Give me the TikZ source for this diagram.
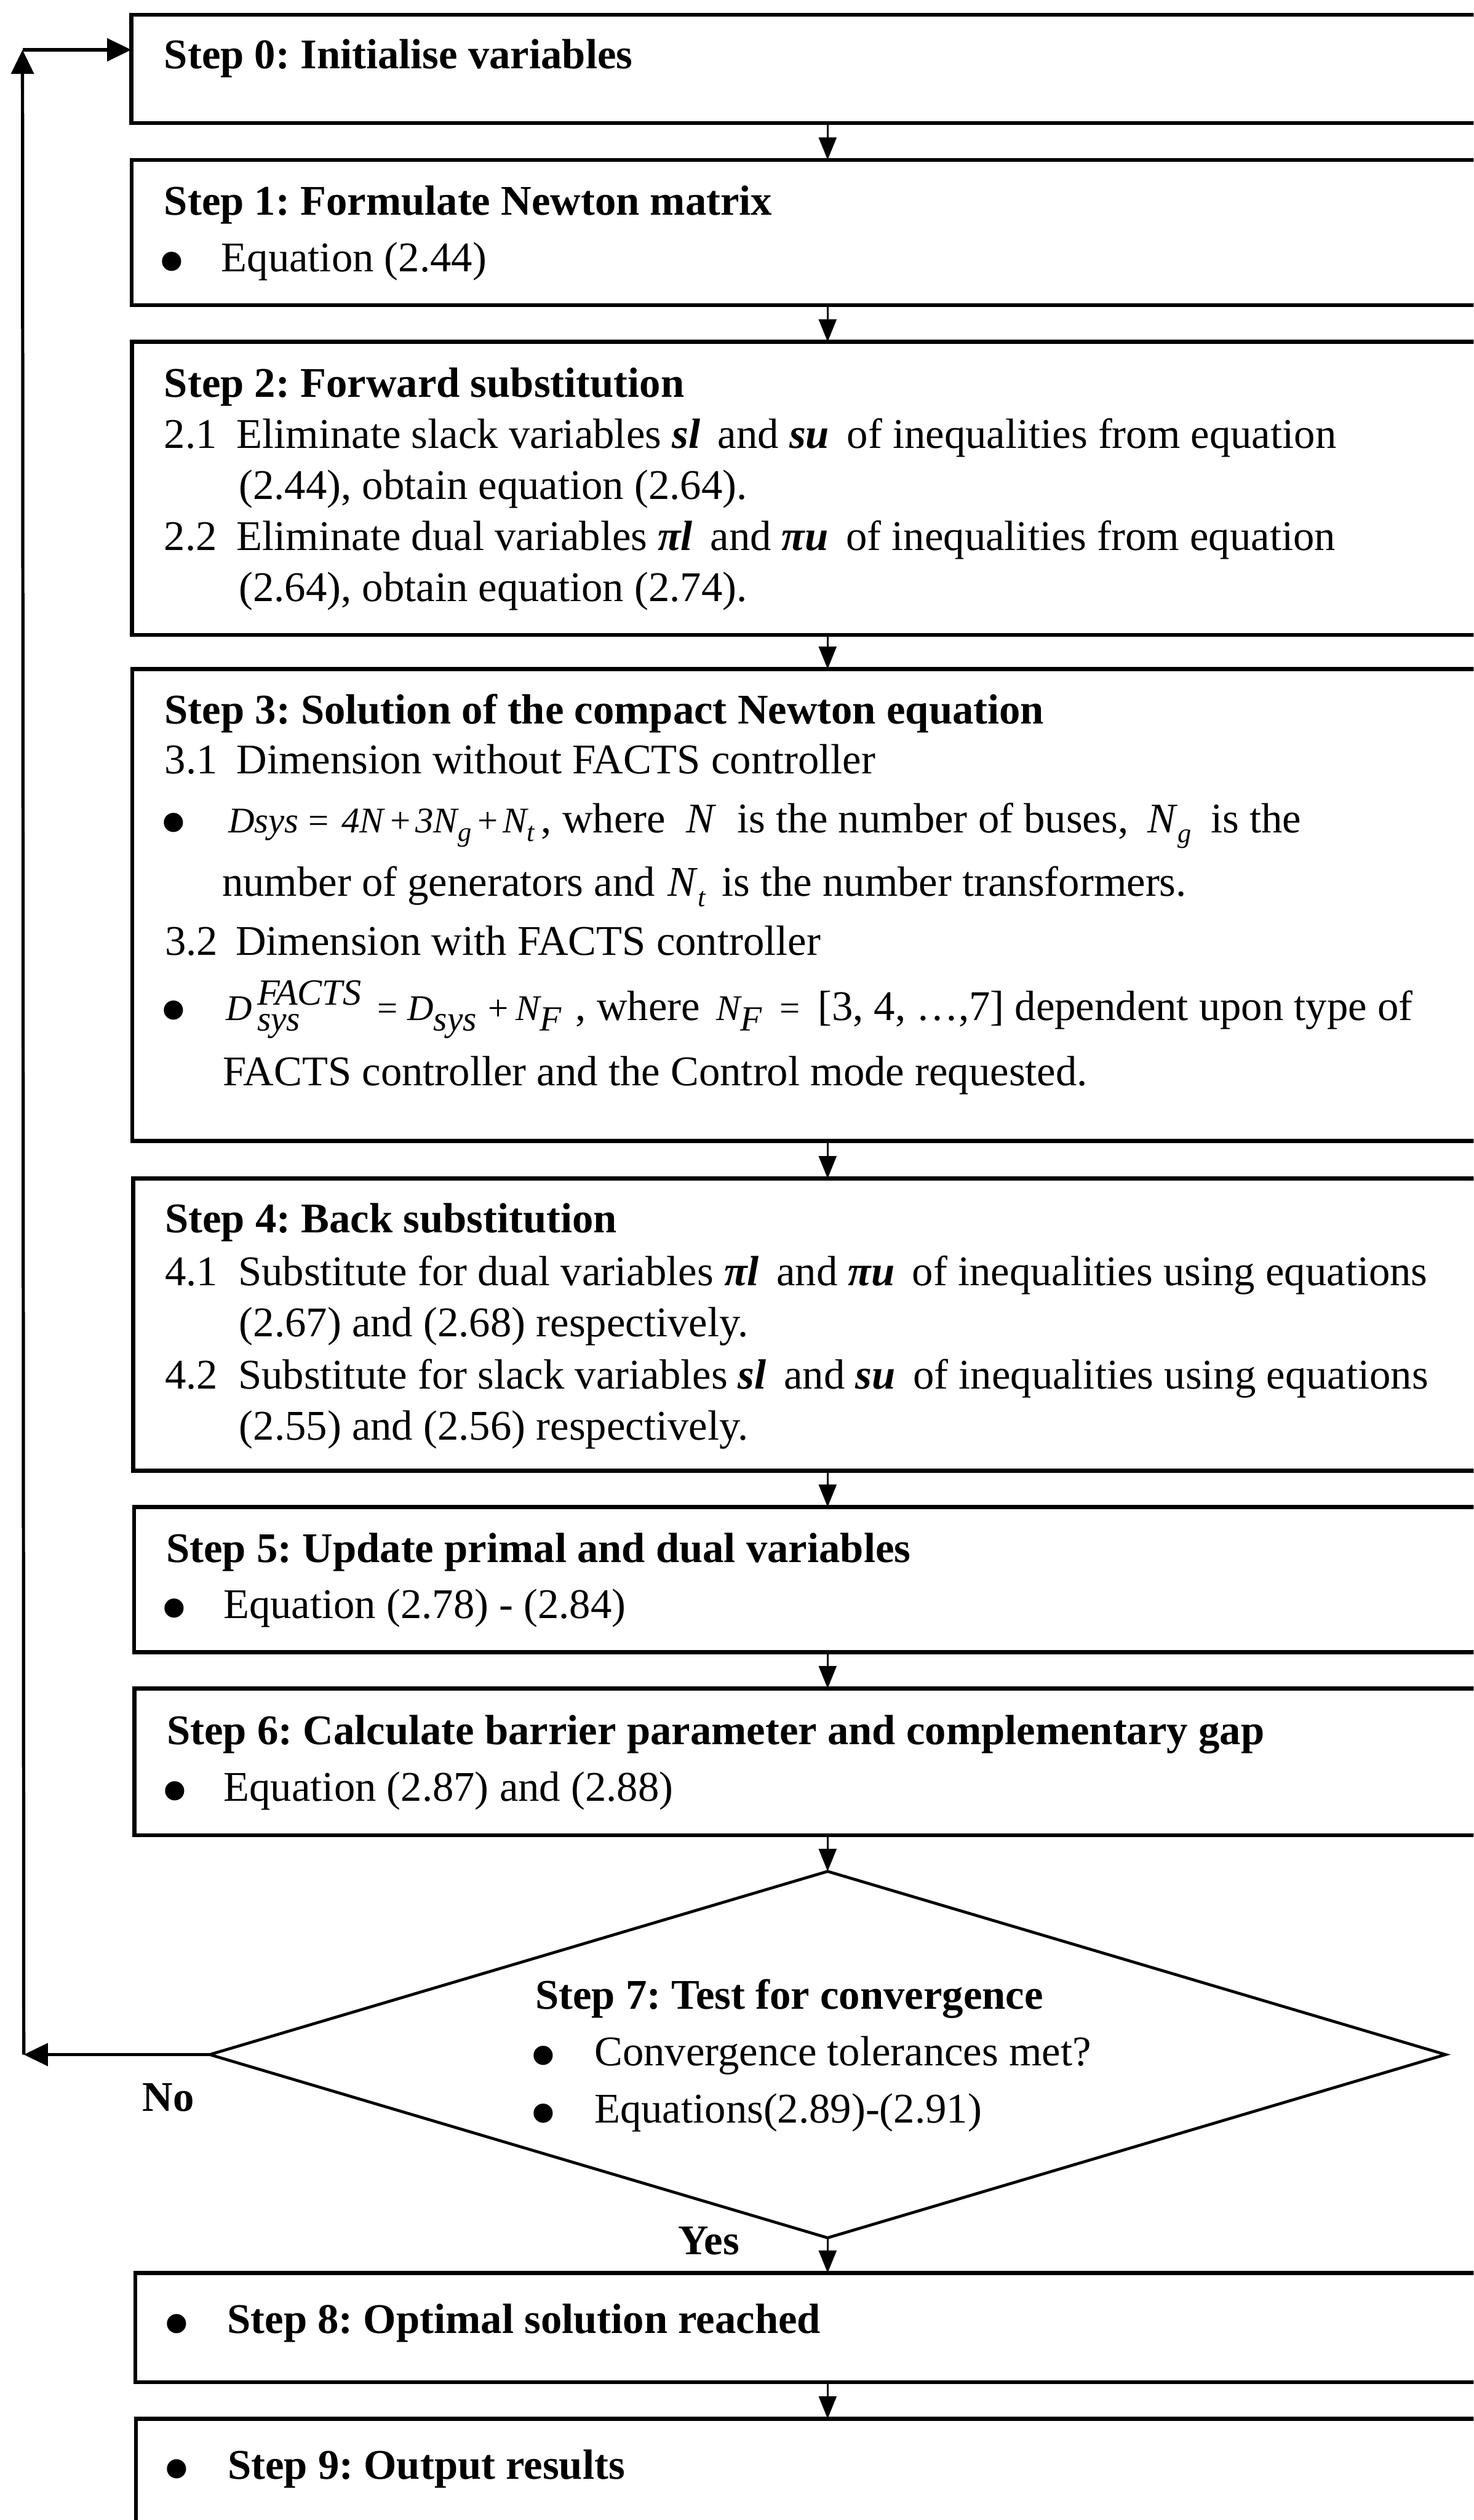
\documentclass[tikz,border=0pt]{standalone}
\usepackage{fontspec}
\setmainfont{Liberation Serif}
\usetikzlibrary{shapes.geometric,arrows.meta}
\frenchspacing

% italic sub/superscripts for the dimension formulas
\newcommand{\lo}[1]{\raisebox{-0.24em}{\fontsize{17}{17}\selectfont\itshape #1}}
\newcommand{\lob}[1]{\raisebox{-6.6pt}{\fontsize{22}{22}\selectfont\itshape #1}}
\newcommand{\hilo}[2]{\makebox[0pt][l]{\raisebox{-6.6pt}{\fontsize{22}{22}\selectfont\itshape #2}}\raisebox{9.3pt}{\fontsize{23}{23}\selectfont\itshape #1}}
\newcommand{\mfont}{\fontsize{22.5}{22.5}\selectfont\itshape}
\newcommand{\gap}[1]{\hspace{#1pt}}
\newcommand{\var}[1]{\textbf{\textit{#1}}}

\begin{document}
\begin{tikzpicture}[x=1pt,y=-1pt,
  box/.style={draw, line width=2.4pt, rectangle, inner sep=0pt, outer sep=0pt,
              anchor=north west, minimum width=880pt},
  txt/.style={anchor=base west, inner sep=0pt, font=\fontsize{26.3}{31.7}\selectfont},
  hd/.style={anchor=base west, inner sep=0pt, font=\fontsize{26.3}{31.7}\selectfont\bfseries},
  bul/.style={anchor=base, inner sep=0pt, yshift=-10.5pt, text height=16pt, text depth=0pt,
              font=\fontsize{50}{50}\selectfont},
  flow/.style={line width=1.2pt, -{Triangle[length=14pt,width=11pt]}},
  back/.style={line width=2pt, -{Triangle[length=15pt,width=14pt]}},
]
\useasboundingbox (0,0) rectangle (917,1568);
\clip (0,0) rectangle (917,1568);

% process boxes (their right sides run past the frame)
\node[box, minimum height=67.4pt]  (b0) at (81.7,9.2) {};
\node[box, minimum height=90.5pt]  (b1) at (81.9,99.5) {};
\node[box, minimum height=182.3pt] (b2) at (82.1,212.7) {};
\node[box, minimum height=293.6pt] (b3) at (82.4,416.3) {};
\node[box, minimum height=181.8pt] (b4) at (82.9,733.3) {};
\node[box, minimum height=90.3pt]  (b5) at (83.4,937.7) {};
\node[box, minimum height=91.3pt]  (b6) at (83.6,1050.6) {};
\node[draw, diamond, line width=1.8pt, inner sep=0pt, outer sep=0pt,
      minimum width=769pt, minimum height=228pt] (d7) at (515,1278.4) {};
\node[box, minimum height=68pt]    (b8) at (84.3,1414.3) {};
\node[box, minimum height=120pt]   (b9) at (84.5,1505) {};

% downward flow
\coordinate (ax) at (515,0);
\draw[flow] (b0.south -| ax) -- (b1.north -| ax);
\draw[flow] (b1.south -| ax) -- (b2.north -| ax);
\draw[flow] (b2.south -| ax) -- (b3.north -| ax);
\draw[flow] (b3.south -| ax) -- (b4.north -| ax);
\draw[flow] (b4.south -| ax) -- (b5.north -| ax);
\draw[flow] (b5.south -| ax) -- (b6.north -| ax);
\draw[flow] (b6.south -| ax) -- (d7.north);
\draw[flow] (d7.south) -- (b8.north -| ax);
\draw[flow] (b8.south -| ax) -- (b9.north -| ax);

% return path when not converged
\coordinate (lc1) at (14.8,1278.4);
\coordinate (lc2) at (14,31);
\draw[back] (d7.west) -- (lc1);
\draw[back] (lc1) -- (lc2);
\draw[back] (lc2) -- (lc2 -| b0.west);

% Step 0
\node[hd] (t0) at (102,42.6) {Step 0: Initialise variables};
% Step 1
\node[hd] (t1) at (102,133.8) {Step 1: Formulate Newton matrix};
\node[bul] (t1b) at (107,169) {•};
\node[txt] (t1a) at (137.5,169) {Equation (2.44)};
% Step 2
\node[hd] (t2) at (102,247) {Step 2: Forward substitution};
\node[txt] (t2n1) at (102,278.8) {2.1};
\node[txt] (t2a) at (147,278.8) {Eliminate slack variables \var{sl}\, and \var{su}\, of inequalities from equation};
\node[txt] (t2b) at (148.5,310.6) {(2.44), obtain equation (2.64).};
\node[txt] (t2n2) at (102,342.4) {2.2};
\node[txt] (t2c) at (147,342.4) {Eliminate dual variables \var{πl}\, and \var{πu}\, of inequalities from equation};
\node[txt] (t2d) at (148.5,374.1) {(2.64), obtain equation (2.74).};
% Step 3
\node[hd] (t3) at (102.3,450.2) {Step 3: Solution of the compact Newton equation};
\node[txt] (t3n1) at (102.3,481.5) {3.1};
\node[txt] (t3a) at (147,481.5) {Dimension without FACTS controller};
\node[bul] (t3b1) at (107.9,518) {•};
\node[txt] (t3b) at (142,518) {{\mfont Dsys\gap{6}{\upshape =}\gap{8}4N\gap{4}{\upshape +}\gap{3}3N\lo{g}\gap{4}{\upshape +}\gap{3}N\lo{t}}\gap{4}, where\gap{13}\textit{N}\gap{13}is the number of buses,\gap{12}\textit{N}\lo{g}\gap{12}is the};
\node[txt] (t3c) at (138,557.7) {number of generators and\gap{8}\textit{N}\lo{t}\gap{10}is the number transformers.};
\node[txt] (t3n2) at (102.5,594.5) {3.2};
\node[txt] (t3d) at (146.5,594.5) {Dimension with FACTS controller};
\node[bul] (t3b2) at (108,634.7) {•};
\node[txt] (t3e) at (140.6,634.7) {{\mfont D\gap{3}\hilo{FACTS}{sys}\gap{10}{\upshape =}\gap{6}D\lob{sys}\gap{7}{\upshape +}\gap{4.5}N\lob{F}}\gap{9}, where\gap{10}{\mfont N\lob{F}\gap{11}{\upshape =}}\gap{11}[3, 4, …,7] dependent upon type of};
\node[txt] (t3f) at (138.7,675.6) {FACTS controller and the Control mode requested.};
% Step 4
\node[hd] (t4) at (102.5,766.8) {Step 4: Back substitution};
\node[txt] (t4n1) at (102.5,799.8) {4.1};
\node[txt] (t4a) at (148,799.8) {Substitute for dual variables \var{πl}\, and \var{πu}\, of inequalities using equations};
\node[txt] (t4b) at (148.7,831.5) {(2.67) and (2.68) respectively.};
\node[txt] (t4n2) at (102.5,864.2) {4.2};
\node[txt] (t4c) at (148,864.2) {Substitute for slack variables \var{sl}\, and \var{su}\, of inequalities using equations};
\node[txt] (t4d) at (148.7,895.9) {(2.55) and (2.56) respectively.};
% Step 5
\node[hd] (t5) at (103.3,972) {Step 5: Update primal and dual variables};
\node[bul] (t5b) at (108.5,1007) {•};
\node[txt] (t5a) at (138.8,1007) {Equation (2.78) - (2.84)};
% Step 6
\node[hd] (t6) at (103.6,1085.4) {Step 6: Calculate barrier parameter and complementary gap};
\node[bul] (t6b) at (108.8,1120.5) {•};
\node[txt] (t6a) at (139,1120.5) {Equation (2.87) and (2.88)};
% Step 7
\node[hd] (t7) at (333,1250.2) {Step 7: Test for convergence};
\node[bul] (t7b1) at (338,1285.2) {•};
\node[txt] (t7a) at (369.7,1285.2) {Convergence tolerances met?};
\node[bul] (t7b2) at (338,1321) {•};
\node[txt] (t7b) at (369.7,1321) {Equations(2.89)-(2.91)};
\node[hd] (no) at (88.5,1313.5) {No};
\node[hd] (yes) at (422,1402.7) {Yes};
% Step 8 and Step 9
\node[bul] (t8b) at (109.9,1451.9) {•};
\node[hd] (t8) at (141.3,1451.9) {Step 8: Optimal solution reached};
\node[bul] (t9b) at (110,1542.5) {•};
\node[hd] (t9) at (141.5,1542.5) {Step 9: Output results};
\end{tikzpicture}
\end{document}
